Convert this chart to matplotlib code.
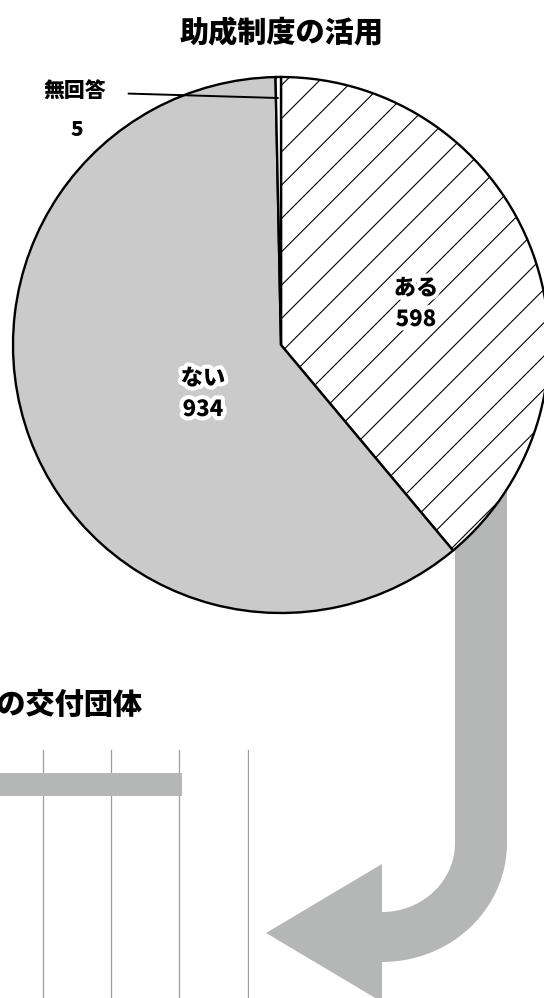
import numpy as np
import matplotlib.pyplot as plt
import matplotlib.patheffects as pe
from matplotlib.patches import Polygon

plt.rcParams['font.family'] = ['Noto Sans CJK JP', 'DejaVu Sans']
plt.rcParams['hatch.linewidth'] = 0.8

# pie data
pie_labels = ["ある", "ない", "無回答"]
pie_values = [598, 934, 5]
pie_colors = ["white", "#c9cac9", "white"]
pie_hatches = ["/", "", ""]

# bar data (only the part visible in the crop)
bar_values = [304]
bar_ticks = [100, 200, 300, 400]

W, H = 544, 998
fig = plt.figure(figsize=(W / 100, H / 100), dpi=100)


def fx(x):
    return x / W


def fy(y):
    return 1 - y / H


# background layer: arrow in pixel coordinates
bg = fig.add_axes([0, 0, 1, 1])
bg.set_xlim(0, W)
bg.set_ylim(H, 0)
bg.axis("off")

cx, cy = 382, 843
t = np.linspace(0, np.pi / 2, 40)
outer = [(507, 480), (507, cy)] + [(cx + 125 * np.cos(a), cy + 119 * np.sin(a)) for a in t]
head = [(382, 1002), (266, 933), (382, 864)]
inner = [(cx + 73 * np.cos(a), cy + 69 * np.sin(a)) for a in t[::-1]] + [(455, 480)]
arrow_pts = outer + head + inner
bg.add_patch(Polygon(arrow_pts, closed=True, facecolor="#b5b7b6", edgecolor="none"))

# bar chart (partially visible)
bx = fig.add_axes([fx(-25), 0, fx(274), fy(750)])
bx.barh([0], bar_values, height=0.67, color="#b5b7b6", zorder=2)
bx.set_xlim(0, 402)
bx.set_ylim(6.25, -1)
bx.set_xticks(bar_ticks)
bx.set_yticks([])
bx.grid(axis="x", color="#9c9c9c", linewidth=0.9, zorder=1)
bx.tick_params(length=0, labelbottom=False)
for s in bx.spines.values():
    s.set_visible(False)
bx.patch.set_alpha(0)

fig.text(fx(143), fy(706), "助成金の交付団体", ha="right", va="center",
         fontsize=21, fontweight="black")

# pie
R = 268
pcx, pcy = 281, 345
ax = fig.add_axes([fx(pcx - R), fy(pcy + R), fx(2 * R), (2 * R) / H])
wedges, _ = ax.pie(pie_values, colors=pie_colors, startangle=90, counterclock=False,
                   wedgeprops=dict(edgecolor="black", linewidth=1.7))
for w, h in zip(wedges, pie_hatches):
    w.set_hatch(h)
    w.set_clip_on(False)
ax.set_xlim(-1, 1)
ax.set_ylim(-1, 1)
ax.set_zorder(3)


def dp(x, y):
    return ((x - pcx) / R, (pcy - y) / R)


glow = [pe.withStroke(linewidth=6, foreground="white")]
ax.text(*dp(416, 304), f"{pie_labels[0]}\n{pie_values[0]}", ha="center", va="center",
        fontsize=16, fontweight="black", linespacing=1.45, path_effects=glow)
ax.text(*dp(203, 394), f"{pie_labels[1]}\n{pie_values[1]}", ha="center", va="center",
        fontsize=16, fontweight="black", linespacing=1.45, path_effects=glow)
ax.annotate(pie_labels[2], xy=dp(278, 98), xytext=dp(75, 92), ha="center", va="center",
            fontsize=15, fontweight="black",
            arrowprops=dict(arrowstyle="-", color="black", lw=1.4, shrinkA=14, shrinkB=0))
ax.text(*dp(77, 130), str(pie_values[2]), ha="center", va="center",
        fontsize=15, fontweight="black")

fig.text(fx(281), fy(34), "助成制度の活用", ha="center", va="center",
         fontsize=21, fontweight="black")

fig.savefig("out.png", dpi=100)
